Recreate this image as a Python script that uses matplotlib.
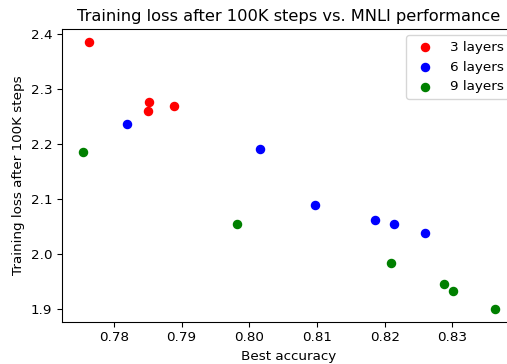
import matplotlib
matplotlib.use("Agg")
import matplotlib.pyplot as plt

acc_3 = [0.7763, 0.7852, 0.7850, 0.7889]
loss_3 = [2.3855, 2.2758, 2.2606, 2.2697]

acc_6 = [0.7820, 0.8016, 0.8097, 0.8185, 0.8213, 0.8259]
loss_6 = [2.2369, 2.1909, 2.0891, 2.0631, 2.0545, 2.0394]

acc_9 = [0.7754, 0.7982, 0.8209, 0.8287, 0.8301, 0.8363]
loss_9 = [2.1849, 2.0558, 1.9842, 1.9455, 1.9340, 1.9013]

DPI = 97.5
fig = plt.figure(figsize=(507 / DPI, 364 / DPI), dpi=DPI)
# reference is cropped on the right, so the axes run slightly past the figure edge
ax = fig.add_axes([0.1223, 0.1154, 0.895, 0.8058])

ax.scatter(acc_3, loss_3, color="red", label="3 layers")
ax.scatter(acc_6, loss_6, color="blue", label="6 layers")
ax.scatter(acc_9, loss_9, color="green", label="9 layers")

ax.set_title("Training loss after 100K steps vs. MNLI performance")
ax.set_xlabel("Best accuracy")
ax.set_ylabel("Training loss after 100K steps")
ax.legend(loc="upper right")

fig.savefig("out.png", dpi=DPI)
